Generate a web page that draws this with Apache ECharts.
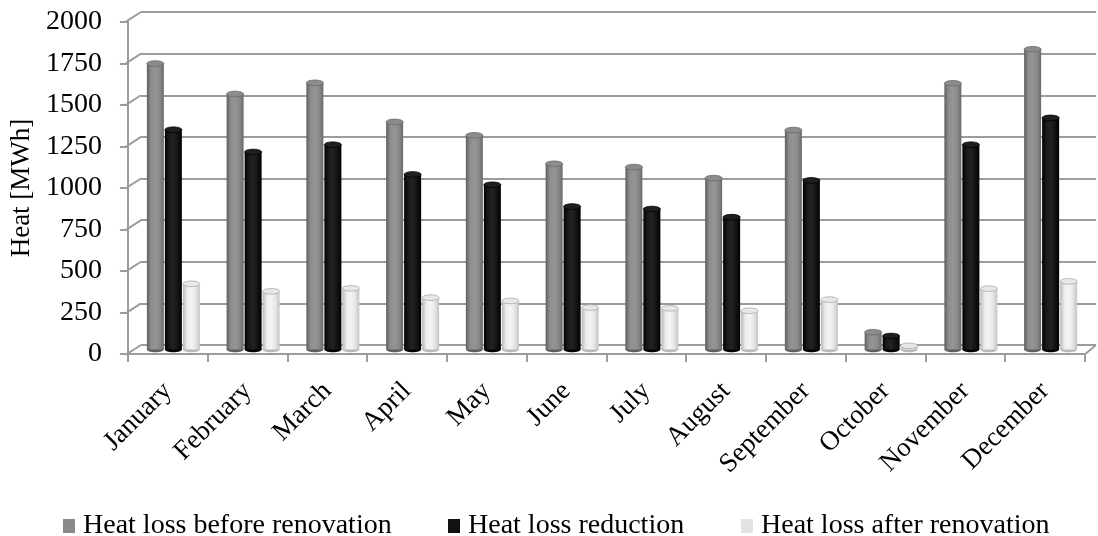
<!DOCTYPE html>
<html><head><meta charset="utf-8">
<script src="https://cdn.jsdelivr.net/npm/echarts@6/dist/echarts.min.js"></script>
<style>
html,body{margin:0;padding:0;background:#fff;overflow:hidden;width:1098px;height:536px;}
#chart{width:1098px;height:536px;}
</style></head>
<body><div id="chart"></div>
<script>
const categories = ['January','February','March','April','May','June','July','August','September','October','November','December'];
const heatLossBefore    = [1720, 1537, 1604, 1369, 1288, 1117, 1097, 1031, 1320, 104, 1601, 1806];
const heatLossReduction = [1322, 1188, 1232, 1053,  991,  860,  845,  796, 1017,  81, 1232, 1393];
const heatLossAfter     = [ 395,  350,  368,  312,  292,  252,  248,  233,  300,  22,  366,  410];
const yTicks = [0, 250, 500, 750, 1000, 1250, 1500, 1750, 2000];
const seriesNames = ['Heat loss before renovation', 'Heat loss reduction', 'Heat loss after renovation'];

const FONT = 'Liberation Serif';
const LINE = '#9c9c9c';

function grad(stops){
  return new echarts.graphic.LinearGradient(0,0,1,0, stops.map((c,i)=>({offset:i/(stops.length-1), color:c})));
}
const styles = [
  {legend:'#8a8a8a', body:['#5e5e5e','#8e8e8e','#959595','#8a8a8a','#6a6a6a'], top:'#8c8c8c', stroke:'#6a6a6a'},
  {legend:'#111111', body:['#000000','#1a1a1a','#222222','#141414','#000000'], top:'#1e1e1e', stroke:'#000000'},
  {legend:'#e2e2e2', body:['#b8b8b8','#ececec','#f4f4f4','#e6e6e6','#c4c4c4'], top:'#e8e8e8', stroke:'#a8a8a8'}
];
const offsets = [-18, 0, 18];
const legendLefts = [58, 443, 736];

function cylinder(k){
  const st = styles[k];
  return function(params, api){
    const cat = api.value(0), v = api.value(1);
    const p = api.coord([cat, v]);
    const p0 = api.coord([cat, 0]);
    const w = 17, rx = 8.5, ry = 2.8;
    const cx = p[0] + offsets[k];
    return {type:'group', children:[
      {type:'ellipse', shape:{cx:cx, cy:p0[1], rx:rx, ry:ry}, style:{fill:st.body[0]}},
      {type:'rect', shape:{x:cx-rx, y:p[1], width:w, height:Math.max(0,p0[1]-p[1])}, style:{fill:grad(st.body)}},
      {type:'ellipse', shape:{cx:cx, cy:p[1], rx:rx, ry:ry}, style:{fill:st.top, stroke:st.stroke, lineWidth:0.8}}
    ]};
  };
}

const chart = echarts.init(document.getElementById('chart'), null, {renderer:'canvas'});
const yBase = {type:'value', min:0, max:2000, interval:250};
const option = {
  animation:false,
  backgroundColor:'#ffffff',
  grid:[
    {left:126, right:13, top:22, bottom:182},
    {left:141, right:2, top:12, bottom:191},
    {left:133.5, right:7.5, top:17, bottom:186.5}
  ],
  xAxis:[
    {type:'category', gridIndex:0, data:categories, boundaryGap:true,
     axisLine:{show:true, lineStyle:{color:LINE, width:2}},
     axisTick:{show:true, interval:0, length:8, lineStyle:{color:LINE, width:2}},
     axisLabel:{interval:0, rotate:45, margin:33, fontFamily:FONT, fontSize:27, color:'#000'},
     splitLine:{show:false}},
    {type:'category', gridIndex:1, data:categories, show:false},
    {type:'category', gridIndex:2, data:categories, show:false}
  ],
  yAxis:[
    Object.assign({}, yBase, {gridIndex:0,
      name:'Heat [MWh]', nameLocation:'middle', nameRotate:90, nameGap:90,
      nameTextStyle:{fontFamily:FONT, fontSize:27, color:'#000'},
      axisLine:{show:true, lineStyle:{color:LINE, width:2}},
      axisTick:{show:true, length:8, lineStyle:{color:LINE, width:2}},
      axisLabel:{margin:26, fontFamily:FONT, fontSize:28, color:'#000', formatter:function(v){return String(v);}},
      splitLine:{show:false}}),
    Object.assign({}, yBase, {gridIndex:1,
      axisLine:{show:false}, axisTick:{show:false}, axisLabel:{show:false},
      splitLine:{show:true, lineStyle:{color:LINE, width:2}}}),
    Object.assign({}, yBase, {gridIndex:2, show:false})
  ],
  legend: seriesNames.map((n,i)=>({
    data:[n], left:legendLefts[i], top:507, icon:'rect', itemWidth:12, itemHeight:14,
    textStyle:{fontFamily:FONT, fontSize:28, color:'#000', padding:[0,0,0,3]}
  })),
  series:[
    {type:'custom', name:'walls', xAxisIndex:1, yAxisIndex:1, silent:true, z:1,
     data:yTicks.map(v=>[0,v]), encode:{x:0,y:1},
     renderItem:function(params, api){
       const v = api.value(1);
       const p = api.coord([0, v]);
       const cs = params.coordSys;
       const kids = [{type:'line', shape:{x1:cs.x, y1:p[1], x2:cs.x-15, y2:p[1]+9.7}, style:{stroke:LINE, lineWidth:2}}];
       if (v === 0) kids.push({type:'line', shape:{x1:cs.x+cs.width, y1:p[1], x2:cs.x+cs.width-11, y2:p[1]+9.3}, style:{stroke:LINE, lineWidth:2}});
       return {type:'group', children:kids};
     }},
    {type:'custom', name:seriesNames[0], xAxisIndex:2, yAxisIndex:2, z:3, itemStyle:{color:styles[0].legend},
     data:heatLossBefore.map((v,i)=>[i,v]), encode:{x:0,y:1}, renderItem:cylinder(0)},
    {type:'custom', name:seriesNames[1], xAxisIndex:2, yAxisIndex:2, z:3, itemStyle:{color:styles[1].legend},
     data:heatLossReduction.map((v,i)=>[i,v]), encode:{x:0,y:1}, renderItem:cylinder(1)},
    {type:'custom', name:seriesNames[2], xAxisIndex:2, yAxisIndex:2, z:3, itemStyle:{color:styles[2].legend},
     data:heatLossAfter.map((v,i)=>[i,v]), encode:{x:0,y:1}, renderItem:cylinder(2)}
  ]
};
chart.setOption(option);
</script>
</body></html>
